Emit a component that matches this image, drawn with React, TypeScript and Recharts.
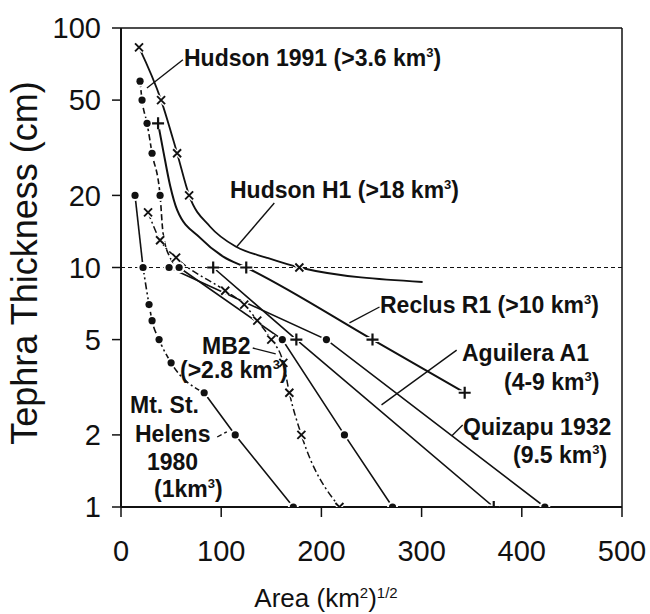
import React from 'react';
import { LineChart, Line, XAxis, YAxis, ReferenceLine } from 'recharts';

// obs: false marks a point (no isopach symbol)
type Pt = { x: number; y: number; obs?: boolean };

const xTicks = [0, 100, 200, 300, 400, 500];
const yTicks = [1, 2, 5, 10, 20, 50, 100];

const hudsonH1: Pt[] = [
  { x: 18, y: 83 }, { x: 40, y: 50 }, { x: 56, y: 30 }, { x: 68, y: 20 },
  { x: 89, y: 14.8, obs: false }, { x: 115, y: 12.2, obs: false }, { x: 145, y: 11, obs: false },
  { x: 178, y: 10 }, { x: 301, y: 8.7, obs: false },
];

const hudson1991: Pt[] = [
  { x: 19, y: 60 }, { x: 21, y: 50 }, { x: 26, y: 40 }, { x: 31, y: 30 }, { x: 39, y: 20 },
  { x: 42, y: 13.9, obs: false }, { x: 49, y: 11, obs: false }, { x: 58, y: 10 },
  { x: 161, y: 5 }, { x: 223, y: 2 }, { x: 271, y: 1 },
];

const reclusR1: Pt[] = [
  { x: 37, y: 40 }, { x: 42, y: 31, obs: false }, { x: 49, y: 22, obs: false }, { x: 56, y: 17.4, obs: false },
  { x: 79, y: 13.3, obs: false }, { x: 102, y: 11.1, obs: false },
  { x: 125, y: 10 }, { x: 251, y: 5 }, { x: 343, y: 3 },
];

const aguileraA1: Pt[] = [{ x: 92, y: 10 }, { x: 175, y: 5 }, { x: 372, y: 1 }];
const quizapu1932: Pt[] = [{ x: 48, y: 10 }, { x: 205, y: 5 }, { x: 423, y: 1 }];

const mb2: Pt[] = [
  { x: 27, y: 17 }, { x: 39, y: 13 }, { x: 55, y: 11 }, { x: 104, y: 8 }, { x: 123, y: 7 },
  { x: 136, y: 6 }, { x: 150, y: 5 }, { x: 162, y: 4 }, { x: 168, y: 3 }, { x: 180, y: 2 }, { x: 218, y: 1 },
];

const stHelens: Pt[] = [
  { x: 14, y: 20 }, { x: 22, y: 10 }, { x: 28, y: 7 }, { x: 31, y: 6 }, { x: 38, y: 5 },
  { x: 50, y: 4 }, { x: 83, y: 3 }, { x: 114, y: 2 }, { x: 172, y: 1 },
];

// label leader lines, data units
const leaders = [
  [{ x: 61.8, y: 73.7 }, { x: 25.9, y: 56.2 }],
  [{ x: 153, y: 18.6 }, { x: 115.5, y: 12.2 }],
  [{ x: 258, y: 6.84 }, { x: 228, y: 5.87 }],
  [{ x: 335, y: 4.52 }, { x: 260, y: 2.67 }],
  [{ x: 341, y: 2.2 }, { x: 330, y: 1.98 }],
  [{ x: 131.5, y: 4.61 }, { x: 154.4, y: 4.36 }],
];
const dashedLeaders = [[{ x: 96, y: 1.96 }, { x: 105.6, y: 2.06 }]];

const FONT = '"Liberation Sans", Arial, Helvetica, sans-serif';
const INK = '#111';

const marker = (kind: 'x' | 'plus' | 'dot') => (p: any) => {
  const { cx, cy, payload, index } = p;
  if (cx == null || cy == null || payload?.obs === false) return <g key={index} />;
  if (kind === 'dot') {
    return (
      <g key={index}>
        <circle cx={cx} cy={cy} r={5.5} fill="#fff" />
        <circle cx={cx} cy={cy} r={3.6} fill={INK} />
      </g>
    );
  }
  if (kind === 'plus') {
    const s = 6;
    return (
      <g key={index}>
        <path d={`M${cx - s} ${cy}H${cx + s}M${cx} ${cy - s}V${cy + s}`} stroke="#fff" strokeWidth={5} />
        <path d={`M${cx - s} ${cy}H${cx + s}M${cx} ${cy - s}V${cy + s}`} stroke={INK} strokeWidth={2.2} />
      </g>
    );
  }
  const s = 4;
  const d = `M${cx - s} ${cy - s}L${cx + s} ${cy + s}M${cx + s} ${cy - s}L${cx - s} ${cy + s}`;
  return (
    <g key={index}>
      <path d={d} stroke="#fff" strokeWidth={4.5} />
      <path d={d} stroke={INK} strokeWidth={1.9} />
    </g>
  );
};

const DASHDOT = '7 3 2 3';

export default function App() {
  const lbl = { fontFamily: FONT, fontWeight: 700, fontSize: 23, fill: INK } as const;
  const sup = (t: string) => (
    <>
      <tspan dy={-9} fontSize={13}>{t}</tspan>
      <tspan dy={9}>)</tspan>
    </>
  );
  return (
    <div style={{ position: 'absolute', left: 0, top: 0, width: 650, height: 614, background: '#fff' }}>
      <LineChart width={650} height={614} margin={{ top: 28, right: 28, bottom: 0, left: 0 }}>
        <XAxis
          type="number"
          dataKey="x"
          domain={[0, 500]}
          ticks={xTicks}
          allowDataOverflow
          height={107}
          tickSize={10}
          tickMargin={23}
          axisLine={{ stroke: INK, strokeWidth: 2 }}
          tickLine={{ stroke: INK, strokeWidth: 1.5 }}
          tick={{ fill: INK, fontSize: 29, fontFamily: FONT }}
        />
        <YAxis
          type="number"
          dataKey="y"
          scale="log"
          domain={[1, 100]}
          ticks={yTicks}
          allowDataOverflow
          width={121}
          tickSize={9}
          tickMargin={11}
          axisLine={{ stroke: INK, strokeWidth: 2 }}
          tickLine={{ stroke: INK, strokeWidth: 1.5 }}
          tick={{ fill: INK, fontSize: 29, fontFamily: FONT }}
        />
        <ReferenceLine y={100} stroke={INK} strokeWidth={1.5} />
        <ReferenceLine x={500} stroke={INK} strokeWidth={1.5} />
        <ReferenceLine y={10} stroke={INK} strokeWidth={1.2} strokeDasharray="4 3" />
        {leaders.map((seg, i) => (
          <ReferenceLine key={'l' + i} segment={seg} stroke={INK} strokeWidth={1.4} />
        ))}
        {dashedLeaders.map((seg, i) => (
          <ReferenceLine key={'d' + i} segment={seg} stroke={INK} strokeWidth={1.4} strokeDasharray="5 3" />
        ))}

        <Line data={stHelens.slice(0, 2)} dataKey="y" type="linear" stroke={INK} strokeWidth={1.6} dot={marker('dot')} isAnimationActive={false} />
        <Line data={stHelens.slice(1, 7)} dataKey="y" type="monotone" stroke={INK} strokeWidth={1.6} strokeDasharray={DASHDOT} dot={marker('dot')} isAnimationActive={false} />
        <Line data={stHelens.slice(6)} dataKey="y" type="linear" stroke={INK} strokeWidth={1.6} dot={marker('dot')} isAnimationActive={false} />

        <Line data={quizapu1932} dataKey="y" type="linear" stroke={INK} strokeWidth={1.6} dot={marker('dot')} isAnimationActive={false} />
        <Line data={aguileraA1} dataKey="y" type="linear" stroke={INK} strokeWidth={1.6} dot={marker('plus')} isAnimationActive={false} />
        <Line data={hudson1991.slice(0, 8)} dataKey="y" type="monotone" stroke={INK} strokeWidth={1.6} strokeDasharray="6 3" dot={marker('dot')} isAnimationActive={false} />
        <Line data={hudson1991.slice(7)} dataKey="y" type="linear" stroke={INK} strokeWidth={1.6} dot={marker('dot')} isAnimationActive={false} />
        <Line data={mb2} dataKey="y" type="monotone" stroke={INK} strokeWidth={1.5} strokeDasharray={DASHDOT} dot={marker('x')} isAnimationActive={false} />
        <Line data={reclusR1} dataKey="y" type="monotone" stroke={INK} strokeWidth={2} dot={marker('plus')} isAnimationActive={false} />
        <Line data={hudsonH1} dataKey="y" type="monotone" stroke={INK} strokeWidth={1.8} dot={marker('x')} isAnimationActive={false} />
      </LineChart>

      <svg width={650} height={614} style={{ position: 'absolute', left: 0, top: 0, pointerEvents: 'none' }}>
        <text {...lbl} x={184} y={66}>Hudson 1991 (&gt;3.6 km{sup('3')}</text>
        <text {...lbl} x={230} y={198}>Hudson H1 (&gt;18 km{sup('3')}</text>
        <text {...lbl} x={380} y={313}>Reclus R1 (&gt;10 km{sup('3')}</text>
        <text {...lbl} x={462} y={361}>Aguilera A1</text>
        <text {...lbl} x={504} y={390}>(4-9 km{sup('3')}</text>
        <text {...lbl} x={463} y={435}>Quizapu 1932</text>
        <text {...lbl} x={513} y={463}>(9.5 km{sup('3')}</text>
        <text {...lbl} x={202} y={354}>MB2</text>
        <text {...lbl} x={180} y={378}>(&gt;2.8 km{sup('3')}</text>
        <text {...lbl} x={130} y={413}>Mt. St.</text>
        <text {...lbl} x={135} y={442}>Helens</text>
        <text {...lbl} x={147} y={470}>1980</text>
        <text {...lbl} x={154} y={497}>(1km{sup('3')}</text>

        <text
          x={37}
          y={263}
          transform="rotate(-90 37 263)"
          textAnchor="middle"
          fontFamily={FONT}
          fontSize={36}
          fill={INK}
        >
          Tephra Thickness (cm)
        </text>
        <text x={326} y={607} textAnchor="middle" fontFamily={FONT} fontSize={26} fill={INK}>
          Area (km<tspan dy={-9} fontSize={15}>2</tspan>
          <tspan dy={9}>)</tspan>
          <tspan dy={-9} fontSize={15}>1/2</tspan>
        </text>
      </svg>
    </div>
  );
}
